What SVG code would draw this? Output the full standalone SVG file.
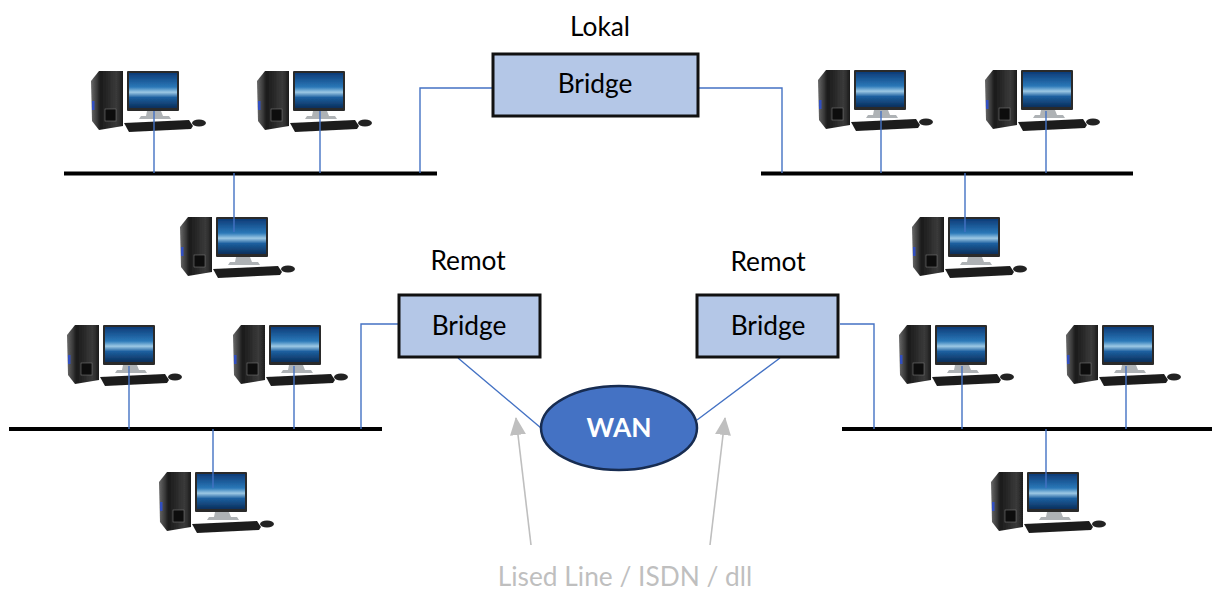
<svg xmlns="http://www.w3.org/2000/svg" width="1212" height="590" viewBox="0 0 1212 590">
<style>
text{font-family:Lato,"Open Sans","Liberation Sans",sans-serif;text-anchor:middle;font-size:26.300px;fill:#000}
.bridge{fill:#b4c7e7;stroke:#111;stroke-width:3}
.bus{stroke:#000;stroke-width:4;fill:none}
.link{stroke:#4472c4;stroke-width:1.4;fill:none}
.grey{stroke:#bfbfbf;stroke-width:1.6;fill:none}
</style>
<defs>
<filter id="soft" x="-5%" y="-5%" width="110%" height="110%"><feGaussianBlur stdDeviation=".45"/></filter>
<linearGradient id="scr" x1="0" y1="0" x2="0" y2="1">
<stop offset="0" stop-color="#0d3c78"/><stop offset=".4" stop-color="#2a78b8"/><stop offset=".55" stop-color="#9cc8e4"/><stop offset=".7" stop-color="#1d5f9f"/><stop offset="1" stop-color="#0a2f5c"/>
</linearGradient>
<linearGradient id="twr" x1="0" y1="0" x2="1" y2="0">
<stop offset="0" stop-color="#6a6a6a"/><stop offset=".3" stop-color="#1a1a1a"/><stop offset=".8" stop-color="#3a3a3a"/><stop offset="1" stop-color="#1d1d1d"/>
</linearGradient>
<symbol id="pc" width="116" height="62" viewBox="0 0 116 62" overflow="visible">
<g filter="url(#soft)">
<path d="M0 10L8 0H32V55L8 59L1 50Z" fill="url(#twr)"/>
<rect x="14" y="38" width="11" height="12" fill="#0b0b0b" stroke="#777" stroke-width=".6"/>
<rect x="1" y="30" width="2.500" height="9" fill="#3050c0"/>
<rect x="36" y="0" width="52" height="40" rx="1" fill="#2a2a2a"/>
<rect x="38" y="2" width="48" height="35" fill="url(#scr)"/>
<path d="M56 40H70L72 45H78L80 48H48L50 45H55Z" fill="#aeb2b5"/>
<path d="M33 52L98 49L102 55L100 58L38 61Z" fill="#1c1c1c"/>
<ellipse cx="108" cy="52" rx="7" ry="3.500" fill="#222"/>
</g>
</symbol>
<marker id="ah" markerWidth="18" markerHeight="16" refX="17" refY="8" orient="auto" markerUnits="userSpaceOnUse" viewBox="0 0 18 16"><path d="M0 0L18 8L0 16Z" fill="#bfbfbf"/></marker>
</defs>
<g id="computers">
<use href="#pc" x="91" y="71"/>
<use href="#pc" x="257" y="71"/>
<use href="#pc" x="180" y="217"/>
<use href="#pc" x="67" y="325"/>
<use href="#pc" x="233" y="325"/>
<use href="#pc" x="159" y="472"/>
<use href="#pc" x="818" y="70"/>
<use href="#pc" x="985" y="70"/>
<use href="#pc" x="912" y="217"/>
<use href="#pc" x="899" y="325"/>
<use href="#pc" x="1066" y="325"/>
<use href="#pc" x="991" y="472"/>
</g>
<g id="connectors">
<path class="bus" d="M64 173.500H437M761 173.500H1133M9 429H382M842 429H1212"/>
<path class="link" d="M154 111V173M320 111V173M234 173V232M493 88H420V173M699 88H782V173M881 111V173M1046 111V173M965 173V232M129 366V429M294 366V429M213 429V488M399 324H361V429M840 324H874V429M962 366V429M1126 366V429M1046 429V488M458 358L541 428M780 358L697 420"/>
<path class="grey" marker-end="url(#ah)" d="M531 545L516 418"/>
<path class="grey" marker-end="url(#ah)" d="M710 545L725 418"/>
</g>
<g id="bridge-lokal">
<text x="600" y="36">Lokal</text>
<rect class="bridge" x="493" y="54" width="205" height="62"/>
<text x="595" y="93">Bridge</text>
</g>
<g id="bridge-remot-left">
<text x="468" y="270">Remot</text>
<rect class="bridge" x="399" y="295" width="141" height="62"/>
<text x="469" y="335">Bridge</text>
</g>
<g id="bridge-remot-right">
<text x="768" y="271">Remot</text>
<rect class="bridge" x="697" y="295" width="141" height="62"/>
<text x="768" y="335">Bridge</text>
</g>
<g id="wan">
<ellipse cx="619" cy="428" rx="78" ry="42" fill="#4472c4" stroke="#172c51" stroke-width="2.500"/>
<text x="619" y="437" style="fill:#fff;font-weight:700">WAN</text>
</g>
<g id="label-line">
<text x="625" y="586" style="fill:#bfbfbf">Lised Line / ISDN / dll</text>
</g>
</svg>
